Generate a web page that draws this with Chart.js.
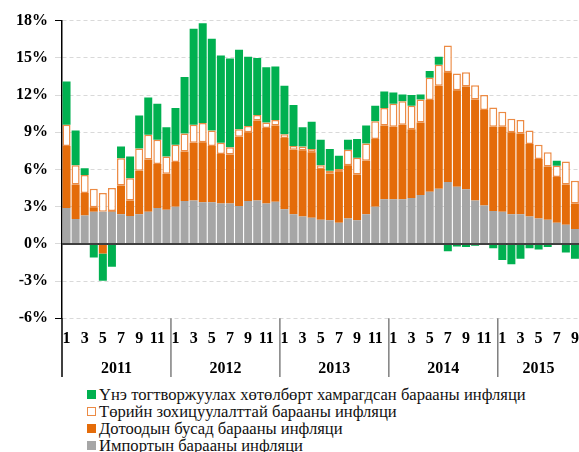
<!DOCTYPE html>
<html lang="mn">
<head>
  <meta charset="UTF-8" />
  <title>Инфляцийн бүтэц</title>
  <script src="https://cdn.jsdelivr.net/npm/chart.js"></script>
  <style>
    body {
      margin: 0;
      width: 579px;
      height: 452px;
      overflow: hidden;
      background: #fff;
      position: relative;
      font-family: 'Liberation Serif', 'Times New Roman', serif;
    }
    #wrap {
      position: absolute;
      left: 0;
      top: 0;
      width: 590px;
      height: 380px;
    }
    #legend {
      position: absolute;
      left: 87px;
      top: 386px;
      font-size: 16.6px;
      line-height: 17px;
      color: #111;
      white-space: nowrap;
    }
    #legend .item { display: flex; align-items: center; height: 17px; }
    #legend .box { width: 9px; height: 9px; margin-right: 3px; box-sizing: border-box; }
  </style>
</head>
<body>
  <div id="wrap"><canvas id="chart" width="590" height="380"></canvas></div>
  <div id="legend"></div>
  <script>
    const years = ['2011', '2012', '2013', '2014', '2015'];
    const monthNumbers = [1, 2, 3, 4, 5, 6, 7, 8, 9, 10, 11, 12];
    const monthCount = 57; // 2011 оны 1 сараас 2015 оны 9 сар хүртэл

    // Импортын барааны инфляци
    const importGoods = [
      2.9, 2.0, 2.3, 2.6, 2.6, 2.6, 2.4, 2.25, 2.4, 2.6, 2.9, 2.75,
      3.0, 3.45, 3.5, 3.35, 3.35, 3.25, 3.25, 3.05, 3.45, 3.5, 3.25, 3.4,
      2.8, 2.4, 2.2, 2.1, 1.95, 1.9, 1.7, 2.05, 1.9, 2.4, 3.0, 3.6,
      3.6, 3.6, 3.7, 3.95, 4.2, 4.45, 5.0, 4.6, 4.4, 3.5, 3.1, 2.65,
      2.6, 2.4, 2.4, 2.2, 2.05, 1.95, 1.7, 1.55, 1.2
    ];
    // Дотоодын бусад барааны инфляци
    const domesticOther = [
      5.0, 2.8, 1.8, 0.35, -0.78, 0.05, 2.3, 1.25, 3.5, 4.2, 3.55, 2.9,
      3.6, 4.0, 4.65, 4.85, 4.55, 4.0, 3.95, 5.6, 5.55, 6.45, 6.1, 6.15,
      5.75, 5.2, 5.35, 5.3, 4.1, 3.75, 4.1, 4.3, 3.7, 4.3, 5.45, 5.95,
      5.85, 6.0, 5.55, 5.85, 7.4, 8.3, 8.85, 7.8, 8.3, 8.15, 7.7, 6.8,
      6.85, 6.6, 6.5, 5.85, 4.8, 4.3, 3.7, 3.25, 2.05
    ];
    // Төрийн зохицуулалттай барааны инфляци
    const regulated = [
      1.7, 1.55, 1.45, 1.5, 1.5, 1.85, 2.2, 1.8, 1.8, 2.0, 1.95, 1.4,
      1.4, 1.45, 1.45, 1.55, 1.25, 0.9, 0.6, 0.6, 0.5, 0.45, 0.45, 0.45,
      0.3, 0.3, 0.3, 0.25, 0.3, 0.25, 0.25, 1.25, 1.35, 1.4, 1.45, 1.4,
      1.85, 1.9, 1.9, 1.85, 1.8, 1.7, 2.15, 1.35, 1.15, 1.15, 1.2, 1.55,
      1.2, 1.1, 1.1, 1.1, 1.15, 1.15, 0.9, 1.85, 1.85
    ];
    // Үнэ тогтворжуулах хөтөлбөрт хамрагдсан барааны инфляци
    const stabilization = [
      3.5, 2.8, 0.55, -1.1, -2.2, -1.85, 0.95, 1.75, 2.65, 3.0, 2.9, 2.35,
      2.95, 4.55, 7.75, 8.05, 7.4, 7.05, 7.15, 6.4, 5.6, 4.6, 4.45, 4.3,
      3.9, 3.3, 1.55, 2.2, 2.05, 1.75, 1.05, 0.8, 1.5, 1.45, 1.25, 1.35,
      0.9, 0.55, 0.85, 0.4, 0.55, 0.65, -0.6, -0.2, -0.25, -0.15, 0, -0.35,
      -1.3, -1.65, -1.2, -0.35, -0.45, -0.25, 0.4, -0.7, -1.2
    ];

    const yTicks = [-6, -3, 0, 3, 6, 9, 12, 15, 18];

    const labels = [];
    years.forEach(y => monthNumbers.forEach(m => {
      if (labels.length < monthCount) labels.push(String(m));
    }));

    const FONT = "'Liberation Serif', 'Times New Roman', serif";

    const yearAxis = {
      id: 'yearAxis',
      afterDatasetsDraw(chart) {
        const { ctx, chartArea, scales: { y } } = chart;
        const y0 = y.getPixelForValue(0);
        ctx.save();
        ctx.strokeStyle = '#404040';
        ctx.lineWidth = 2;
        ctx.beginPath();
        ctx.moveTo(chartArea.left, y0);
        ctx.lineTo(chartArea.right, y0);
        ctx.stroke();
        ctx.restore();
      },
      afterDraw(chart) {
        const { ctx, chartArea, scales: { x } } = chart;
        const half = (x.getPixelForValue(1) - x.getPixelForValue(0)) / 2;
        const bottom = 377;
        ctx.save();
        // ось доош үргэлжлэх
        ctx.strokeStyle = '#000';
        ctx.lineWidth = 1.5;
        ctx.beginPath();
        ctx.moveTo(chartArea.left, chartArea.bottom);
        ctx.lineTo(chartArea.left, bottom);
        ctx.stroke();

        ctx.font = 'bold 16px ' + FONT;
        ctx.fillStyle = '#000';
        ctx.textAlign = 'center';
        ctx.textBaseline = 'middle';
        years.forEach((yr, i) => {
          const first = i * 12;
          const last = Math.min(first + 11, labels.length - 1);
          const left = x.getPixelForValue(first) - half;
          const right = x.getPixelForValue(last) + half;
          if (i > 0) {
            ctx.strokeStyle = '#7f7f7f';
            ctx.beginPath();
            ctx.moveTo(left, chartArea.bottom);
            ctx.lineTo(left, bottom);
            ctx.stroke();
          }
          ctx.fillText(yr, (left + right) / 2, 368.5);
        });
        ctx.restore();
      }
    };

    const datasets = [
      {
        label: 'Импортын барааны инфляци',
        data: importGoods,
        backgroundColor: '#A6A6A6',
        borderWidth: 0
      },
      {
        label: 'Дотоодын бусад барааны инфляци',
        data: domesticOther,
        backgroundColor: '#E46C0A',
        borderWidth: 0
      },
      {
        label: 'Төрийн зохицуулалттай барааны инфляци',
        data: regulated,
        backgroundColor: '#FFFFFF',
        borderColor: '#EC8B45',
        borderWidth: 1.5,
        borderSkipped: false
      },
      {
        label: 'Үнэ тогтворжуулах хөтөлбөрт хамрагдсан барааны инфляци',
        data: stabilization,
        backgroundColor: '#00B050',
        borderWidth: 0
      }
    ];

    new Chart(document.getElementById('chart'), {
      type: 'bar',
      data: { labels, datasets },
      options: {
        responsive: false,
        animation: false,
        layout: { padding: { top: 20.7, left: 0, right: 7, bottom: 0 } },
        datasets: { bar: { barPercentage: 0.88, categoryPercentage: 1.0 } },
        plugins: { legend: { display: false }, tooltip: { enabled: false } },
        scales: {
          x: {
            stacked: true,
            grid: { display: false, drawTicks: false },
            border: { display: false },
            ticks: {
              autoSkip: false,
              maxRotation: 0,
              padding: 11,
              color: '#000',
              font: { family: FONT, size: 16, weight: 'bold' },
              callback: (v, i) => (Number(labels[i]) % 2 === 1 ? labels[i] : '')
            },
            afterFit: s => { s.height = 61.7; }
          },
          y: {
            stacked: true,
            min: -6,
            max: 18,
            afterBuildTicks: s => { s.ticks = yTicks.map(v => ({ value: v })); },
            grid: {
              color: '#d9d9d9',
              tickLength: 7,
              tickColor: c => (c.index === 0 || c.index === yTicks.length - 1 ? '#000' : '#d9d9d9')
            },
            border: { color: '#000', width: 1.5, dash: [4, 3] },
            ticks: {
              padding: 7,
              color: '#000',
              font: { family: FONT, size: 16, weight: 'bold' },
              callback: v => v + '%'
            },
            afterFit: s => { s.width = 62; }
          }
        }
      },
      plugins: [yearAxis]
    });

    // тайлбар: графикийн дарааллын эсрэгээр
    const legend = document.getElementById('legend');
    datasets.slice().reverse().forEach(ds => {
      const row = document.createElement('div');
      row.className = 'item';
      const box = document.createElement('span');
      box.className = 'box';
      box.style.background = ds.backgroundColor;
      if (ds.borderColor) box.style.border = '1px solid ' + ds.borderColor;
      const txt = document.createElement('span');
      txt.textContent = ds.label;
      row.appendChild(box);
      row.appendChild(txt);
      legend.appendChild(row);
    });
  </script>
</body>
</html>
